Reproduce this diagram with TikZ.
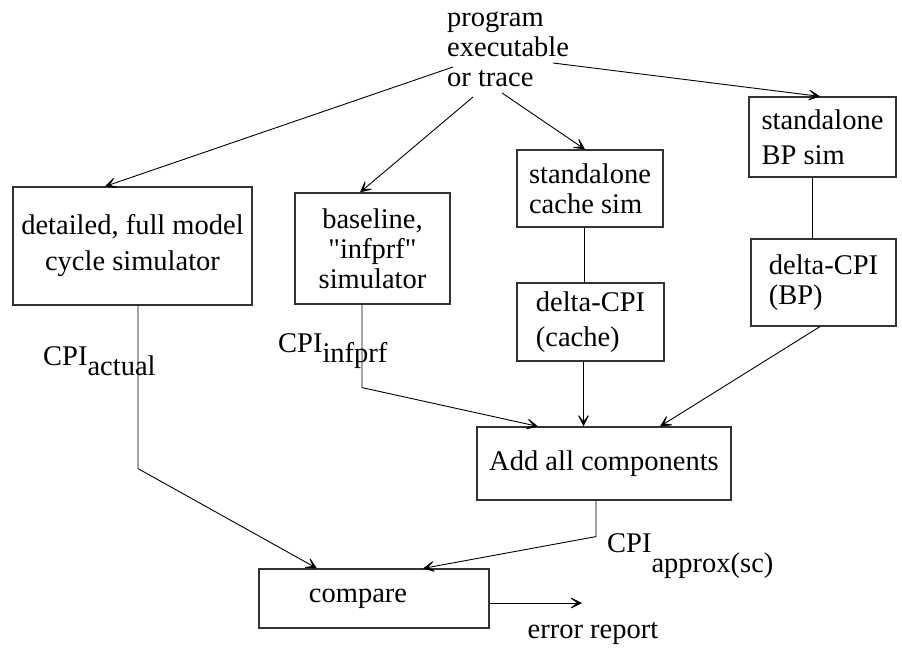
\documentclass[tikz,border=0pt]{standalone}
\usepackage{fontspec}
\setmainfont{Liberation Serif}[Ligatures=TeXOff]
\usetikzlibrary{arrows.meta,calc}
\tikzset{
  >={Stealth[length=15pt,width=15pt,inset=10pt]},
  box/.style={draw=black!80,line width=1.2pt,inner sep=0pt,align=center},
  lbox/.style={box,align=left},
  lab/.style={inner sep=0pt,align=left},
  arr/.style={->,line width=0.9pt},
  link/.style={line width=0.9pt},
}

\begin{document}
\begin{tikzpicture}[x=1pt,y=-1pt,every node/.style={font=\fontsize{28.5}{30}\selectfont}]
\useasboundingbox (0,0) rectangle (902,648);
% input
\node[lab,anchor=north west] (src) at (447,12) {program\\executable\\or trace};
\coordinate (o1) at (453,67);
\coordinate (o2) at (473,97);
\coordinate (o3) at (502,93);
\coordinate (o4) at (553,63);
% simulators
\node[box,minimum width=239pt,minimum height=118pt] (det) at (132.5,246) {detailed, full model\\[6pt]cycle simulator};
\node[box,minimum width=155pt,minimum height=111pt] (base) at (372.5,248.5) {baseline,\\"infprf"\\simulator};
\node[lbox,minimum width=146pt,minimum height=77pt] (cache) at (590,188.5) {standalone\\cache sim};
\node[lbox,minimum width=147pt,minimum height=80pt] (bp) at (822.5,137) {standalone\\[5pt]BP sim};
\node[lbox,minimum width=147pt,minimum height=78pt] (dcache) at (590.5,322) {delta-CPI\\[5pt](cache)};
\node[lbox,minimum width=145pt,minimum height=87pt] (dbp) at (823.5,282.5) {delta-CPI\\(BP)};
\node[box,minimum width=254pt,minimum height=73pt] (add) at (604,463.5) {Add all components};
\node[box,minimum width=230pt,minimum height=59pt] (cmp) at (374,598.5) {compare\hspace*{32pt}};
% labels
\node[lab,anchor=base west] (cact) at (43,365) {CPI\raisebox{-10pt}{actual}};
\node[lab,anchor=base west] (cinf) at (278,352) {CPI\raisebox{-10pt}{infprf}};
\node[lab,anchor=base west] (capx) at (607,552) {CPI\raisebox{-20pt}{approx(sc)}};
\coordinate (err) at (582,603);
\node[lab,anchor=base] (erep) at (593,638) {error report};
% connectors
\draw[arr] (o1) -- ($(det.north)+(-27.5,0)$);
\draw[arr] (o2) -- ($(base.north)+(-12.5,0)$);
\draw[arr] (o3) -- ($(cache.north)+(-5,0)$);
\draw[arr] (o4) -- ($(bp.north)+(-2.5,0)$);
\coordinate (c0) at ($(cache.south)+(-6,0)$);
\draw[link] (c0) -- (c0 |- dcache.north);
\coordinate (b0) at ($(bp.south)+(-10.5,0)$);
\draw[link] (b0) -- (b0 |- dbp.north);
\coordinate (c1) at ($(dcache.south)+(-7,0)$);
\draw[arr] (c1) -- (c1 |- add.north);
\draw[arr] ($(dbp.south)+(-3.5,0)$) -- ($(add.north)+(56,0)$);
\draw[arr] ($(base.south)+(-10.5,0)$) -- ++(0,83) -- ($(add.north)+(-66,0)$);
\draw[arr] ($(det.south)+(5.5,0)$) -- ++(0,163) -- ($(cmp.north)+(-57,0)$);
\draw[arr] ($(add.south)+(-8,0)$) -- ++(0,36) -- ($(cmp.north)+(49,0)$);
\draw[arr] ($(cmp.east)+(0,4.5)$) -- (err);
\end{tikzpicture}
\end{document}
